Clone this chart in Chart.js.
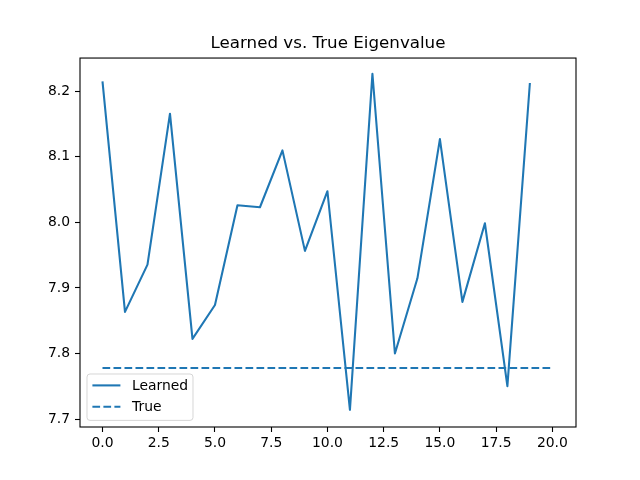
<!DOCTYPE html>
<html>
<head>
<meta charset="utf-8">
<script src="https://cdn.jsdelivr.net/npm/chart.js@4.4.1/dist/chart.umd.min.js"></script>
<style>
html,body{margin:0;padding:0;background:#fff;}
#c{display:block;}
</style>
</head>
<body>
<canvas id="c" width="640" height="480"></canvas>
<script>
const steps = [0,1,2,3,4,5,6,7,8,9,10,11,12,13,14,15,16,17,18,19];
const learned = [8.2146,7.8634,7.9355,8.1655,7.8223,7.874,8.026,8.0229,8.1096,7.9564,
                 8.0473,7.7142,8.2264,7.8000,7.9146,8.1268,7.8787,7.9985,7.7502,8.2122];
const trueX = [0, 20];
const trueY = [7.778, 7.778];
const xTicks = [0, 2.5, 5, 7.5, 10, 12.5, 15, 17.5, 20];
const yTicks = [7.7, 7.8, 7.9, 8.0, 8.1, 8.2];
const titleText = 'Learned vs. True Eigenvalue';
const seriesLabels = ['Learned', 'True'];

const BLUE = '#1f77b4';
const FONT = "'DejaVu Sans', sans-serif";

const framePlugin = {
  id: 'frame',
  afterDatasetsDraw(chart) {
    const {ctx, chartArea: a} = chart;
    ctx.save();
    ctx.strokeStyle = '#000';
    ctx.lineWidth = 1.1;
    ctx.strokeRect(a.left, a.top, a.right - a.left, a.bottom - a.top);
    ctx.restore();
  }
};

const legendPlugin = {
  id: 'mplLegend',
  afterDraw(chart) {
    const {ctx, chartArea: a} = chart;
    const x0 = a.left + 7, y1 = a.bottom - 6.6;
    const w = 106, h = 46.4, y0 = y1 - h;
    ctx.save();
    const r = 3;
    ctx.beginPath();
    ctx.moveTo(x0 + r, y0);
    ctx.lineTo(x0 + w - r, y0);
    ctx.quadraticCurveTo(x0 + w, y0, x0 + w, y0 + r);
    ctx.lineTo(x0 + w, y0 + h - r);
    ctx.quadraticCurveTo(x0 + w, y0 + h, x0 + w - r, y0 + h);
    ctx.lineTo(x0 + r, y0 + h);
    ctx.quadraticCurveTo(x0, y0 + h, x0, y0 + h - r);
    ctx.lineTo(x0, y0 + r);
    ctx.quadraticCurveTo(x0, y0, x0 + r, y0);
    ctx.closePath();
    ctx.fillStyle = 'rgba(255,255,255,0.8)';
    ctx.fill();
    ctx.strokeStyle = 'rgba(204,204,204,0.8)';
    ctx.lineWidth = 1;
    ctx.stroke();
    const rows = [y0 + 11.4, y0 + 32.7];
    chart.data.datasets.forEach((ds, i) => {
      const yy = rows[i];
      ctx.beginPath();
      ctx.strokeStyle = ds.borderColor;
      ctx.lineWidth = ds.borderWidth;
      ctx.setLineDash(ds.borderDash || []);
      ctx.moveTo(x0 + 5.4, yy);
      ctx.lineTo(x0 + 33.4, yy);
      ctx.stroke();
      ctx.setLineDash([]);
      ctx.fillStyle = '#000';
      ctx.font = '13.9px ' + FONT;
      ctx.textBaseline = 'middle';
      ctx.textAlign = 'left';
      ctx.fillText(ds.label, x0 + 45, yy + 0.5);
    });
    ctx.restore();
  }
};

new Chart(document.getElementById('c'), {
  type: 'line',
  data: {
    datasets: [
      {
        label: seriesLabels[0],
        data: steps.map((s, i) => ({x: s, y: learned[i]})),
        borderColor: BLUE,
        borderWidth: 2.08,
        borderJoinStyle: 'round',
        pointRadius: 0,
        tension: 0,
        fill: false
      },
      {
        label: seriesLabels[1],
        data: trueX.map((s, i) => ({x: s, y: trueY[i]})),
        borderColor: BLUE,
        borderWidth: 2.08,
        borderDash: [7.7, 3.3],
        pointRadius: 0,
        tension: 0,
        fill: false
      }
    ]
  },
  options: {
    responsive: false,
    animation: false,
    devicePixelRatio: 1,
    layout: {padding: {left: 0, right: 64, top: 0, bottom: 0}},
    plugins: {
      legend: {display: false},
      tooltip: {enabled: false},
      title: {
        display: true,
        fullSize: false,
        text: titleText,
        color: '#000',
        font: {family: FONT, size: 16.7, weight: 'normal', lineHeight: 1.2},
        padding: {top: 33.5, bottom: 4.5}
      }
    },
    scales: {
      x: {
        type: 'linear',
        min: -1,
        max: 21.05,
        afterBuildTicks: s => { s.ticks = xTicks.map(v => ({value: v})); },
        afterFit: s => { s.height = 53; },
        ticks: {
          color: '#000',
          font: {family: FONT, size: 13.9},
          padding: 3,
          maxRotation: 0,
          autoSkip: false,
          callback: v => Number(v).toFixed(1)
        },
        grid: {display: true, drawOnChartArea: false, drawTicks: true, tickLength: 5, tickColor: '#000', tickWidth: 1.1},
        border: {display: false}
      },
      y: {
        type: 'linear',
        min: 7.6880,
        max: 8.2503,
        afterBuildTicks: s => { s.ticks = yTicks.map(v => ({value: v})); },
        afterFit: s => { s.width = 80; },
        ticks: {
          color: '#000',
          font: {family: FONT, size: 13.9},
          padding: 5,
          autoSkip: false,
          callback: v => Number(v).toFixed(1)
        },
        grid: {display: true, drawOnChartArea: false, drawTicks: true, tickLength: 5, tickColor: '#000', tickWidth: 1.1},
        border: {display: false}
      }
    }
  },
  plugins: [framePlugin, legendPlugin]
});
</script>
</body>
</html>
